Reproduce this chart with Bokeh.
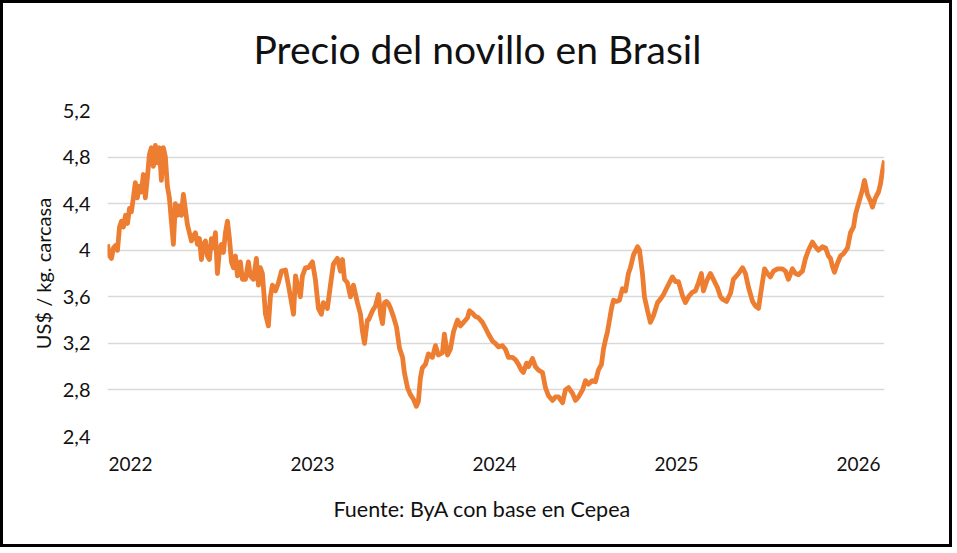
from bokeh.plotting import figure
from bokeh.models import FixedTicker, CustomJSTickFormatter, Range1d, Title
from bokeh.embed import file_html
from bokeh.resources import INLINE

# Fecha (año decimal) y precio del novillo (US$ / kg carcasa)
fecha = [
    2021.874, 2021.885, 2021.896, 2021.907, 2021.918, 2021.929, 2021.940, 2021.951, 2021.962, 2021.973,
    2021.984, 2021.995, 2022.005, 2022.016, 2022.027, 2022.038, 2022.049, 2022.060, 2022.071, 2022.082,
    2022.093, 2022.104, 2022.115, 2022.126, 2022.137, 2022.148, 2022.159, 2022.170, 2022.181, 2022.192,
    2022.203, 2022.214, 2022.225, 2022.236, 2022.247, 2022.258, 2022.269, 2022.280, 2022.291, 2022.302,
    2022.313, 2022.324, 2022.335, 2022.346, 2022.357, 2022.368, 2022.379, 2022.390, 2022.401, 2022.412,
    2022.423, 2022.434, 2022.445, 2022.456, 2022.467, 2022.478, 2022.489, 2022.500, 2022.511, 2022.522,
    2022.533, 2022.544, 2022.555, 2022.566, 2022.577, 2022.588,
    2022.604, 2022.615, 2022.632, 2022.648, 2022.659, 2022.676, 2022.692, 2022.703, 2022.714, 2022.725,
    2022.742, 2022.758, 2022.769, 2022.780, 2022.797, 2022.813, 2022.830, 2022.852, 2022.868, 2022.885,
    2022.896, 2022.907, 2022.918, 2022.934, 2022.945, 2022.962, 2022.978, 2023.000, 2023.016, 2023.033,
    2023.049, 2023.060, 2023.082, 2023.099, 2023.115, 2023.137, 2023.154, 2023.165, 2023.176, 2023.192,
    2023.209, 2023.225, 2023.247, 2023.264, 2023.275, 2023.286, 2023.302,
    2023.308, 2023.330, 2023.346, 2023.363, 2023.374, 2023.385, 2023.396, 2023.407, 2023.418, 2023.429,
    2023.445, 2023.462, 2023.478, 2023.495, 2023.505, 2023.522, 2023.538, 2023.555, 2023.571, 2023.582,
    2023.593, 2023.604, 2023.621, 2023.637, 2023.659, 2023.676, 2023.692, 2023.714, 2023.725, 2023.742,
    2023.758, 2023.775, 2023.797, 2023.813, 2023.830, 2023.852, 2023.863, 2023.879, 2023.896, 2023.912,
    2023.934, 2023.951, 2023.967, 2023.989, 2024.005, 2024.022,
    2024.044, 2024.060, 2024.077, 2024.099, 2024.115, 2024.132, 2024.148, 2024.159, 2024.176, 2024.187,
    2024.209, 2024.225, 2024.242, 2024.264, 2024.280, 2024.297, 2024.319, 2024.335, 2024.352, 2024.374,
    2024.390, 2024.407, 2024.429, 2024.445, 2024.462, 2024.484, 2024.500, 2024.516, 2024.538, 2024.555,
    2024.571, 2024.588, 2024.599, 2024.610, 2024.621, 2024.632, 2024.643, 2024.654, 2024.670, 2024.687,
    2024.703, 2024.720, 2024.736, 2024.747, 2024.764, 2024.786, 2024.797, 2024.813, 2024.824, 2024.841,
    2024.857, 2024.874, 2024.896, 2024.912, 2024.929, 2024.951, 2024.978, 2024.995, 2025.011, 2025.033,
    2025.049, 2025.066, 2025.088, 2025.104, 2025.121, 2025.137, 2025.148, 2025.170, 2025.187, 2025.203,
    2025.225, 2025.242, 2025.253, 2025.275, 2025.297, 2025.313, 2025.341, 2025.363, 2025.379, 2025.396,
    2025.418, 2025.434, 2025.451, 2025.462, 2025.473, 2025.484, 2025.500, 2025.516, 2025.533, 2025.555,
    2025.582, 2025.599, 2025.615, 2025.637, 2025.654, 2025.670, 2025.692, 2025.709, 2025.725, 2025.747,
    2025.764, 2025.780, 2025.802, 2025.819, 2025.835, 2025.846, 2025.857, 2025.868, 2025.885, 2025.901,
    2025.918, 2025.940, 2025.956, 2025.973, 2025.984, 2026.000, 2026.022, 2026.033, 2026.049, 2026.066,
    2026.077, 2026.093, 2026.110, 2026.121, 2026.132, 2026.143,
]

precio = [
    4.05, 3.95, 3.93, 4.02, 4.04, 4.00, 4.20, 4.25, 4.20, 4.30,
    4.23, 4.36, 4.33, 4.45, 4.58, 4.45, 4.55, 4.50, 4.65, 4.45,
    4.62, 4.82, 4.88, 4.72, 4.90, 4.75, 4.88, 4.60, 4.88, 4.80,
    4.55, 4.45, 4.25, 4.05, 4.40, 4.30, 4.38, 4.30, 4.48, 4.35,
    4.22, 4.15, 4.08, 4.12, 4.15, 4.05, 4.10, 3.92, 4.05, 4.08,
    3.95, 3.92, 4.10, 4.02, 4.15, 3.80, 4.00, 4.05, 3.98, 4.15,
    4.25, 4.10, 3.90, 3.85, 3.95, 3.78,
    3.90, 3.75, 3.75, 3.90, 3.78, 3.75, 3.93, 3.70, 3.85, 3.80,
    3.45, 3.35, 3.60, 3.70, 3.65, 3.72, 3.82, 3.83, 3.70, 3.55,
    3.45, 3.78, 3.70, 3.60, 3.78, 3.85, 3.85, 3.90, 3.75, 3.50,
    3.45, 3.55, 3.50, 3.70, 3.88, 3.93, 3.82, 3.92, 3.75, 3.72,
    3.60, 3.70, 3.55, 3.45, 3.30, 3.20, 3.40,
    3.40, 3.48, 3.52, 3.62, 3.45, 3.37, 3.55, 3.56, 3.54, 3.50,
    3.43, 3.34, 3.16, 3.08, 2.95, 2.82, 2.76, 2.72, 2.66, 2.70,
    2.90, 2.99, 3.02, 3.11, 3.08, 3.18, 3.10, 3.12, 3.28, 3.10,
    3.15, 3.30, 3.40, 3.35, 3.38, 3.42, 3.48, 3.46, 3.43, 3.42,
    3.38, 3.33, 3.28, 3.22, 3.20, 3.17,
    3.18, 3.15, 3.08, 3.08, 3.06, 3.02, 2.97, 2.95, 3.03, 3.00,
    3.07, 3.00, 2.97, 2.95, 2.82, 2.75, 2.71, 2.74, 2.74, 2.69,
    2.80, 2.82, 2.77, 2.71, 2.74, 2.80, 2.88, 2.85, 2.88, 2.87,
    2.97, 3.02, 3.15, 3.23, 3.30, 3.40, 3.50, 3.57, 3.56, 3.57,
    3.67, 3.65, 3.80, 3.85, 3.96, 4.03, 4.00, 3.80, 3.60, 3.48,
    3.38, 3.44, 3.55, 3.58, 3.62, 3.69, 3.77, 3.73, 3.73, 3.61,
    3.55, 3.60, 3.64, 3.65, 3.72, 3.80, 3.65, 3.75, 3.80, 3.75,
    3.68, 3.60, 3.58, 3.56, 3.63, 3.75, 3.80, 3.85, 3.80, 3.68,
    3.56, 3.52, 3.50, 3.62, 3.73, 3.84, 3.80, 3.77, 3.82, 3.84,
    3.84, 3.82, 3.75, 3.84, 3.80, 3.79, 3.82, 3.93, 4.00, 4.07,
    4.03, 4.00, 4.03, 4.02, 3.95, 3.93, 3.86, 3.81, 3.89, 3.95,
    3.97, 4.02, 4.15, 4.20, 4.31, 4.40, 4.52, 4.60, 4.48, 4.42,
    4.37, 4.45, 4.50, 4.57, 4.68, 4.77,
]

titulo = "Precio del novillo en Brasil"
fuente = "Fuente: ByA con base en Cepea"
eje_y = "US$ / kg. carcasa"
y_ticks = [2.4, 2.8, 3.2, 3.6, 4.0, 4.4, 4.8, 5.2]
x_ticks = [2022, 2023, 2024, 2025, 2026]

FONT = "Lato"
TEXT = "#111111"

p = figure(width=952, height=547, output_backend="svg", toolbar_location=None,
           x_range=Range1d(fecha[0], fecha[-1]), y_range=Range1d(y_ticks[0], y_ticks[-1]),
           min_border_left=104, min_border_right=71, min_border_top=107, min_border_bottom=114)
p.styles = {"border": "3px solid black"}
p.background_fill_color = "white"
p.border_fill_color = "white"
p.outline_line_color = None

p.title.text = titulo
p.title.align = "left"
p.title.offset = 146
p.title.text_font = FONT
p.title.text_font_size = "39px"
p.title.text_font_style = "normal"
p.title.text_color = TEXT
p.title.standoff = 38

# espaciador entre el título y el gráfico
p.add_layout(Title(text=" ", text_font_size="1px", standoff=17), "above")

p.add_layout(Title(text=fuente, align="left", offset=226, text_font=FONT, text_font_size="21.5px",
                   text_font_style="normal", text_color=TEXT, standoff=41), "below")

p.line(fecha, precio, line_color="#ED7D31", line_width=4.8, line_join="round")

p.xgrid.visible = False
p.ygrid.ticker = FixedTicker(ticks=y_ticks)
p.ygrid.grid_line_color = "#d9d9d9"
p.ygrid.grid_line_width = 1.5

for ax in (p.xaxis[0], p.yaxis[0]):
    ax.axis_line_color = None
    ax.major_tick_line_color = None
    ax.minor_tick_line_color = None
    ax.major_tick_in = 0
    ax.major_tick_out = 0
    ax.minor_tick_in = 0
    ax.minor_tick_out = 0
    ax.major_label_text_font = FONT
    ax.major_label_text_color = TEXT

p.yaxis.ticker = FixedTicker(ticks=y_ticks)
p.yaxis.formatter = CustomJSTickFormatter(
    code="var s = tick.toFixed(1).replace('.', ','); return s.endsWith(',0') ? s.slice(0, -2) : s;")
p.yaxis.major_label_text_font_size = "20px"
p.yaxis.major_label_standoff = 17
p.yaxis.axis_label = eje_y
p.yaxis.axis_label_text_font = FONT
p.yaxis.axis_label_text_font_size = "20px"
p.yaxis.axis_label_text_font_style = "normal"
p.yaxis.axis_label_text_color = TEXT
p.yaxis.axis_label_standoff = 5

p.xaxis.ticker = FixedTicker(ticks=x_ticks)
p.xaxis.formatter = CustomJSTickFormatter(code="return tick.toFixed(0);")
p.xaxis.major_label_text_font_size = "19px"
p.xaxis.major_label_standoff = 20

open("out.html", "w").write(file_html(p, INLINE))
